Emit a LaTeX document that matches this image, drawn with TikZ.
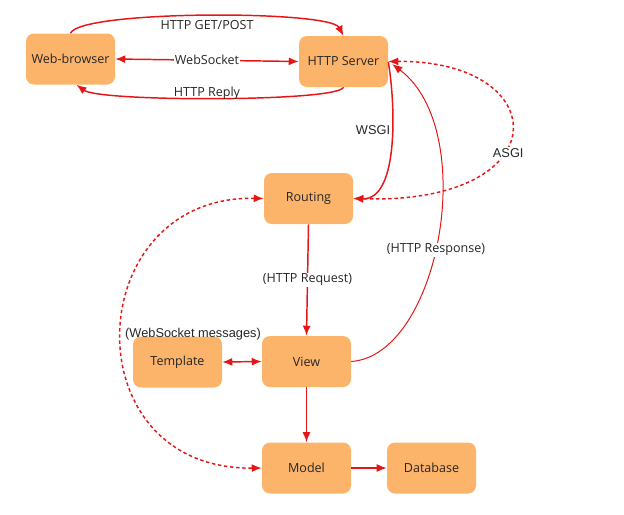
\documentclass[tikz,border=0pt]{standalone}
\usepackage{fontspec}
\setmainfont{Open Sans}
\newfontfamily\arialf{Liberation Sans}
\usetikzlibrary{arrows.meta}
\definecolor{boxfill}{RGB}{252,180,106}
\definecolor{arr}{RGB}{230,22,22}
\tikzset{
  box/.style={fill=boxfill, rounded corners=6pt, minimum width=66.75pt, minimum height=38.25pt,
    inner sep=0pt, font=\fontsize{9.4}{11}\selectfont, text=black!85},
  lbl/.style={font=\fontsize{9.4}{11}\selectfont, inner sep=1pt, text=black!85},
  albl/.style={font=\arialf\fontsize{9.6}{11}\selectfont, inner sep=1pt, text=black!85},
  conn/.style={draw=arr, line width=1.1pt, -{Latex[length=7.5pt,width=6pt]}},
  bconn/.style={draw=arr, line width=1.1pt, {Latex[length=7.5pt,width=6pt]}-{Latex[length=7.5pt,width=6pt]}},
  dconn/.style={draw=arr, line width=1.1pt, dash pattern=on 2.6pt off 2pt, {Latex[length=7.5pt,width=6pt]}-{Latex[length=7.5pt,width=6pt]}},
  tconn/.style={draw=arr, line width=0.75pt, -{Latex[length=7.5pt,width=6pt]}},
}
\begin{document}
\begin{tikzpicture}[x=0.75pt, y=-0.75pt]
\useasboundingbox (0,0) rectangle (624,514);
% nodes
\node[box] (wb) at (70.5,59) {Web-browser};
\node[box] (srv) at (343.5,61.5) {HTTP Server};
\node[box] (rt) at (308.5,198.5) {Routing};
\node[box] (tmpl) at (177.5,362) {Template};
\node[box] (view) at (306.5,361.5) {View};
\node[box] (model) at (306.5,468) {Model};
\node[box] (db) at (431.5,468) {Database};
% top connectors
\draw[conn] (wb.north) .. controls (80,10) and (330,10) .. (srv.north);
\node[lbl] (lget) at (207,25) {HTTP GET/POST};
\draw[bconn] (wb.east) -- node[lbl, fill=white] (lws) {WebSocket} (srv.west);
\draw[conn] (srv.south) .. controls (338,102) and (100,102) .. ([xshift=4.5pt]wb.south);
\node[lbl] (lrep) at (207,93) {HTTP Reply};
% WSGI
\draw[conn] ([yshift=-0.4pt]srv.east) .. controls (395,100) and (400,200) .. (rt.east);
\node[albl] (lwsgi) at (373,130) {WSGI};
% ASGI
\draw[dconn] (srv.east) .. controls (555,60) and (560,205) .. node[albl, fill=white, pos=0.6, xshift=4pt] (lasgi) {ASGI} (rt.east);
% HTTP Response
\draw[tconn] (view.east) .. controls (440,355) and (480,130) .. ([xshift=3pt,yshift=-2pt]srv.east);
\node[lbl, fill=white] (lresp) at (436,250) {(HTTP Response)};
% Routing -> View
\draw[conn] (rt.south) -- node[lbl, fill=white, pos=0.5] (lreq) {(HTTP Request)} (view.north);
% Template <-> View
\draw[bconn] (tmpl.east) -- (view.west);
% View -> Model
\draw[conn] (view.south) -- (model.north);
% Model -> Database
\draw[conn] (model.east) -- (db.west);
% WebSocket messages
\draw[dconn] (rt.west) .. controls (80,195) and (70,470) .. (model.west);
\node[albl] (lwsm) at (193,334) {(WebSocket messages)};
\end{tikzpicture}
\end{document}
